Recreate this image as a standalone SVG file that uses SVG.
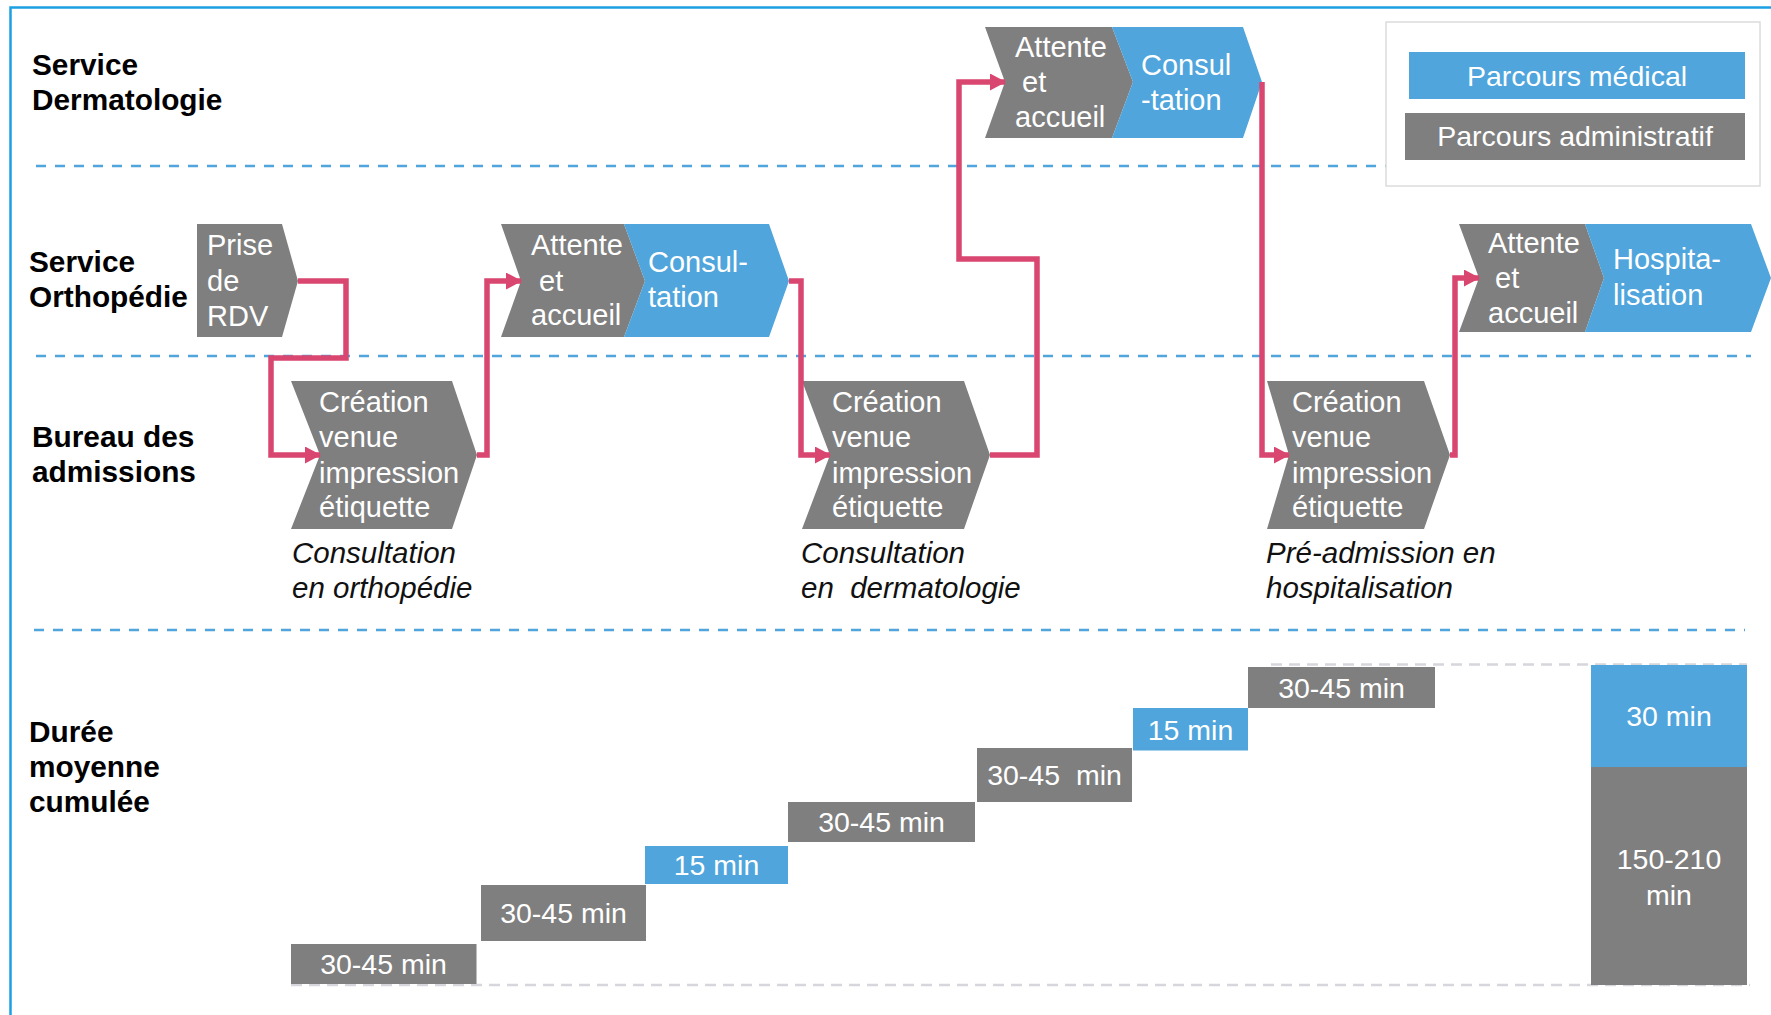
<svg xmlns="http://www.w3.org/2000/svg" width="1771" height="1015" viewBox="0 0 1771 1015">
<style>
  text { font-family: "Liberation Sans", Arial, sans-serif; }
  .lane { font-size: 29.8px; font-weight: bold; fill: #000; }
  .wt { font-size: 29px; fill: #fff; }
  .cap { font-size: 29.5px; font-style: italic; fill: #111; }
  .bt { font-size: 28.5px; fill: #fff; text-anchor: middle; }
  .gray { fill: #7f7f7f; }
  .blue { fill: #4fa5dc; }
  .sep { stroke: #4fa5dc; stroke-width: 2.4; stroke-dasharray: 10 9; fill: none; }
  .gsep { stroke: #d6d6dc; stroke-width: 2.5; stroke-dasharray: 11 7; fill: none; }
  .conn { stroke: #d9466f; stroke-width: 5.5; fill: none; stroke-linejoin: miter; }
</style>
<defs>
  <marker id="arr" viewBox="0 0 16 17" refX="15" refY="8.5" markerWidth="16" markerHeight="17" markerUnits="userSpaceOnUse" orient="auto">
    <path d="M0,0 L16,8.5 L0,17 Z" fill="#d9466f"/>
  </marker>
</defs>
<rect x="0" y="0" width="1771" height="1015" fill="#fff"/>
<path d="M10.5,1015 V7.5 H1771" stroke="#1ba1e2" stroke-width="2.5" fill="none"/>

<g id="separators">
  <line class="sep" x1="36" y1="166" x2="1386" y2="166"/>
  <line class="sep" x1="36" y1="356" x2="1751" y2="356"/>
  <line class="sep" x1="34" y1="630" x2="1745" y2="630"/>
  <line class="gsep" x1="1271" y1="664.5" x2="1747" y2="664.5"/>
  <line class="gsep" x1="291" y1="985" x2="1750" y2="985"/>
</g>

<g id="lane-labels">
  <text class="lane" x="32" y="75">Service</text>
  <text class="lane" x="32" y="110">Dermatologie</text>
  <text class="lane" x="29" y="272">Service</text>
  <text class="lane" x="29" y="307">Orthopédie</text>
  <text class="lane" x="32" y="447">Bureau des</text>
  <text class="lane" x="32" y="482">admissions</text>
  <text class="lane" x="29" y="742">Durée</text>
  <text class="lane" x="29" y="777">moyenne</text>
  <text class="lane" x="29" y="812">cumulée</text>
</g>

<g id="legend">
  <rect x="1386" y="22" width="374" height="164" fill="#fff" stroke="#dcdcdc" stroke-width="1.5"/>
  <rect class="blue" x="1409" y="52" width="336" height="47"/>
  <text class="bt" x="1577" y="86">Parcours médical</text>
  <rect class="gray" x="1405" y="113" width="340" height="47"/>
  <text class="bt" x="1575" y="146">Parcours administratif</text>
</g>

<g id="prise-rdv">
  <polygon class="gray" points="197,224 282,224 298,281 282,337 197,337"/>
  <text class="wt" x="207" y="255">Prise</text>
  <text class="wt" x="207" y="291">de</text>
  <text class="wt" x="207" y="326">RDV</text>
</g>

<g id="ortho-attente">
  <polygon class="gray" points="501,224 624,224 645,281 624,337 501,337 521,281"/>
  <text class="wt" x="531" y="255">Attente</text>
  <text class="wt" x="539" y="291">et</text>
  <text class="wt" x="531" y="325">accueil</text>
</g>
<g id="ortho-consultation">
  <polygon class="blue" points="624,224 769,224 789,281 769,337 624,337 645,281"/>
  <text class="wt" x="648" y="272">Consul-</text>
  <text class="wt" x="648" y="307">tation</text>
</g>

<g id="derm-attente">
  <polygon class="gray" points="985,27 1112,27 1133,82 1112,138 985,138 1005,82"/>
  <text class="wt" x="1015" y="57">Attente</text>
  <text class="wt" x="1022" y="92">et</text>
  <text class="wt" x="1015" y="127">accueil</text>
</g>
<g id="derm-consultation">
  <polygon class="blue" points="1112,27 1243,27 1262,82 1243,138 1112,138 1133,82"/>
  <text class="wt" x="1141" y="75">Consul</text>
  <text class="wt" x="1141" y="110">-tation</text>
</g>

<g id="hosp-attente">
  <polygon class="gray" points="1459,224 1585,224 1604,278 1585,332 1459,332 1479,278"/>
  <text class="wt" x="1488" y="253">Attente</text>
  <text class="wt" x="1495" y="288">et</text>
  <text class="wt" x="1488" y="323">accueil</text>
</g>
<g id="hosp-hospitalisation">
  <polygon class="blue" points="1585,224 1751,224 1771,278 1751,332 1585,332 1604,278"/>
  <text class="wt" x="1613" y="269">Hospita-</text>
  <text class="wt" x="1613" y="305">lisation</text>
</g>

<g id="creation-1">
  <polygon class="gray" points="291,381 452,381 477,455 452,529 291,529 320,455"/>
  <text class="wt" x="319" y="412">Création</text>
  <text class="wt" x="319" y="447">venue</text>
  <text class="wt" x="319" y="483">impression</text>
  <text class="wt" x="319" y="517">étiquette</text>
  <text class="cap" x="292" y="563">Consultation</text>
  <text class="cap" x="292" y="598">en orthopédie</text>
</g>

<g id="creation-2">
  <polygon class="gray" points="802,381 964,381 990,455 964,529 802,529 830,455"/>
  <text class="wt" x="832" y="412">Création</text>
  <text class="wt" x="832" y="447">venue</text>
  <text class="wt" x="832" y="483">impression</text>
  <text class="wt" x="832" y="517">étiquette</text>
  <text class="cap" x="801" y="563">Consultation</text>
  <text class="cap" x="801" y="598" xml:space="preserve">en  dermatologie</text>
</g>

<g id="creation-3">
  <polygon class="gray" points="1267,381 1424,381 1450,455 1424,529 1267,529 1289,455"/>
  <text class="wt" x="1292" y="412">Création</text>
  <text class="wt" x="1292" y="447">venue</text>
  <text class="wt" x="1292" y="483">impression</text>
  <text class="wt" x="1292" y="517">étiquette</text>
  <text class="cap" x="1266" y="563">Pré-admission en</text>
  <text class="cap" x="1266" y="598">hospitalisation</text>
</g>

<g id="connectors">
  <path class="conn" d="M298,281 H346 V358 H271 V455 H320" marker-end="url(#arr)"/>
  <path class="conn" d="M477,455 H487 V281 H521" marker-end="url(#arr)"/>
  <path class="conn" d="M789,281 H801 V455 H830" marker-end="url(#arr)"/>
  <path class="conn" d="M990,455 H1037 V259 H959 V82 H1005" marker-end="url(#arr)"/>
  <path class="conn" d="M1262,82 V455 H1289" marker-end="url(#arr)"/>
  <path class="conn" d="M1450,455 H1455 V278 H1479" marker-end="url(#arr)"/>
</g>

<g id="durations">
  <rect class="gray" x="291" y="944" width="185.5" height="40"/>
  <text class="bt" x="383.5" y="974">30-45 min</text>
  <rect class="gray" x="481" y="885" width="165" height="56"/>
  <text class="bt" x="563.5" y="923">30-45 min</text>
  <rect class="blue" x="645" y="846" width="143" height="38"/>
  <text class="bt" x="716.5" y="875">15 min</text>
  <rect class="gray" x="788" y="802" width="187" height="40"/>
  <text class="bt" x="881.5" y="832">30-45 min</text>
  <rect class="gray" x="977" y="748" width="155" height="54"/>
  <text class="bt" x="1054.5" y="785" xml:space="preserve">30-45  min</text>
  <rect class="blue" x="1133" y="708" width="115" height="42.5"/>
  <text class="bt" x="1190.5" y="740">15 min</text>
  <rect class="gray" x="1248" y="667" width="187" height="41"/>
  <text class="bt" x="1341.5" y="698">30-45 min</text>
</g>

<g id="total">
  <rect class="blue" x="1591" y="665" width="156" height="102"/>
  <text class="bt" x="1669" y="726">30 min</text>
  <rect class="gray" x="1591" y="767" width="156" height="218"/>
  <text class="bt" x="1669" y="869">150-210</text>
  <text class="bt" x="1669" y="905">min</text>
</g>
</svg>
